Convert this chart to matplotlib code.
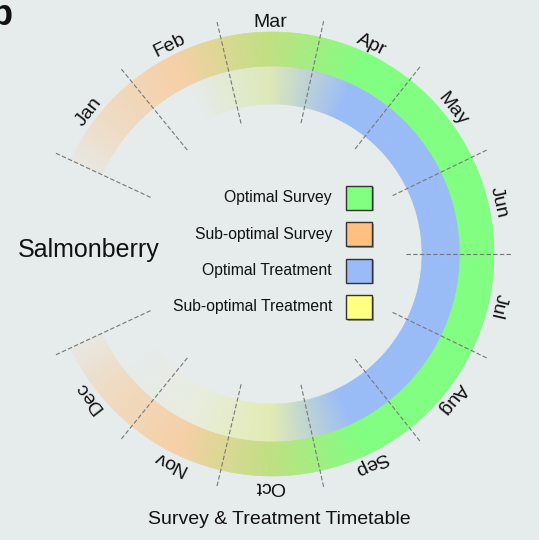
import numpy as np
import matplotlib.pyplot as plt
from matplotlib.collections import PolyCollection
from matplotlib.patches import Rectangle
from matplotlib.colors import to_rgb

plt.rcParams['font.family'] = ['Liberation Sans', 'DejaVu Sans']

months = ["Jan", "Feb", "Mar", "Apr", "May", "Jun",
          "Jul", "Aug", "Sep", "Oct", "Nov", "Dec"]
# share of the month that is optimal (rest sub-optimal) and how strong the colour is
survey_optimal = [0, 0, 0.5, 1, 1, 1, 1, 1, 1, 0.5, 0, 0]
survey_strength = [0.35, 0.65, 1, 1, 1, 1, 1, 1, 1, 1, 0.65, 0.35]
treatment_optimal = [0, 0, 0.35, 1, 1, 1, 1, 1, 1, 0.3, 0, 0]
treatment_strength = [0, 0, 0.8, 1, 1, 1, 1, 1, 1, 0.8, 0.12, 0]

legend_labels = ["Optimal Survey", "Sub-optimal Survey",
                 "Optimal Treatment", "Sub-optimal Treatment"]
legend_colors = ["#80ff80", "#ffc080", "#99bbf7", "#ffff80"]

species = "Salmonberry"
title = "Survey & Treatment Timetable"
panel = "b"

BG = "#e6ebeb"
bg = np.array(to_rgb(BG))

# layout (pixels, y up)
cx, cy = 272, 286
start, span = 155.0, 310.0
step = span / len(months)
centers = start - step * (np.arange(len(months)) + 0.5)


def month_colours(share, strength, opt_c, sub_c):
    opt = np.array(to_rgb(opt_c))
    sub = np.array(to_rgb(sub_c))
    out = []
    for s, a in zip(share, strength):
        c = s * opt + (1 - s) * sub
        out.append(a * c + (1 - a) * bg)
    return np.array(out)


def draw_ring(ax, cols, r0, r1, n=500):
    # fade the two loose ends back towards the background
    first = bg + 0.25 * (cols[0] - bg)
    last = bg + 0.25 * (cols[-1] - bg)
    key_ang = np.concatenate([[start], centers, [start - span]])[::-1]
    key_col = np.vstack([first, cols, last])[::-1]
    edges = np.linspace(start, start - span, n + 1)
    polys, faces = [], []
    for a, b in zip(edges[:-1], edges[1:]):
        m = 0.5 * (a + b)
        col = [np.interp(m, key_ang, key_col[:, k]) for k in range(3)]
        ta, tb = np.radians(a), np.radians(b)
        polys.append([
            (cx + r0 * np.cos(ta), cy + r0 * np.sin(ta)),
            (cx + r1 * np.cos(ta), cy + r1 * np.sin(ta)),
            (cx + r1 * np.cos(tb), cy + r1 * np.sin(tb)),
            (cx + r0 * np.cos(tb), cy + r0 * np.sin(tb)),
        ])
        faces.append(col)
    pc = PolyCollection(polys, facecolors=faces, edgecolors=faces,
                        linewidths=0.4, zorder=2)
    ax.add_collection(pc)


fig = plt.figure(figsize=(5.39, 5.40), dpi=100, facecolor=BG)
ax = fig.add_axes([0, 0, 1, 1])
ax.set_xlim(0, 539)
ax.set_ylim(0, 540)
ax.set_facecolor(BG)
ax.axis("off")

survey_cols = month_colours(survey_optimal, survey_strength,
                            legend_colors[0], legend_colors[1])
treat_cols = month_colours(treatment_optimal, treatment_strength,
                           legend_colors[2], legend_colors[3])
draw_ring(ax, treat_cols, 150, 188)
draw_ring(ax, survey_cols, 188, 222)

# month dividers
for k in range(len(months) + 1):
    t = np.radians(start - step * k)
    ax.plot([cx + 134 * np.cos(t), cx + 239 * np.cos(t)],
            [cy + 134 * np.sin(t), cy + 239 * np.sin(t)],
            color="#777777", lw=0.8, ls=(0, (4, 2)), zorder=3)

# month labels
for i, m in enumerate(months):
    t = np.radians(centers[i])
    ax.text(cx + 232 * np.cos(t), cy + 232 * np.sin(t), m,
            rotation=centers[i] - 90, rotation_mode="anchor",
            ha="center", va="center", fontsize=14, color="#111111")

# legend
for j, (lab, col) in enumerate(zip(legend_labels, legend_colors)):
    yc = 540 - (197.5 + 36.5 * j)
    ax.add_patch(Rectangle((347.5, yc - 13.5), 26, 24, facecolor="#9a9a9a",
                           edgecolor="none", zorder=3))
    ax.add_patch(Rectangle((346, yc - 12), 26, 24, facecolor=col,
                           edgecolor="#333333", lw=1, zorder=4))
    ax.text(332, yc, lab, ha="right", va="center", fontsize=11.3,
            color="#111111")

ax.text(89, 290, species, ha="center", va="center", fontsize=18,
        color="#111111")
ax.text(279, 20, title, ha="center", va="center", fontsize=14,
        color="#111111")
ax.text(13, 515, panel, ha="right", va="baseline", fontsize=26,
        fontweight="bold", color="#111111")

fig.savefig("out.png", dpi=100, facecolor=BG)
